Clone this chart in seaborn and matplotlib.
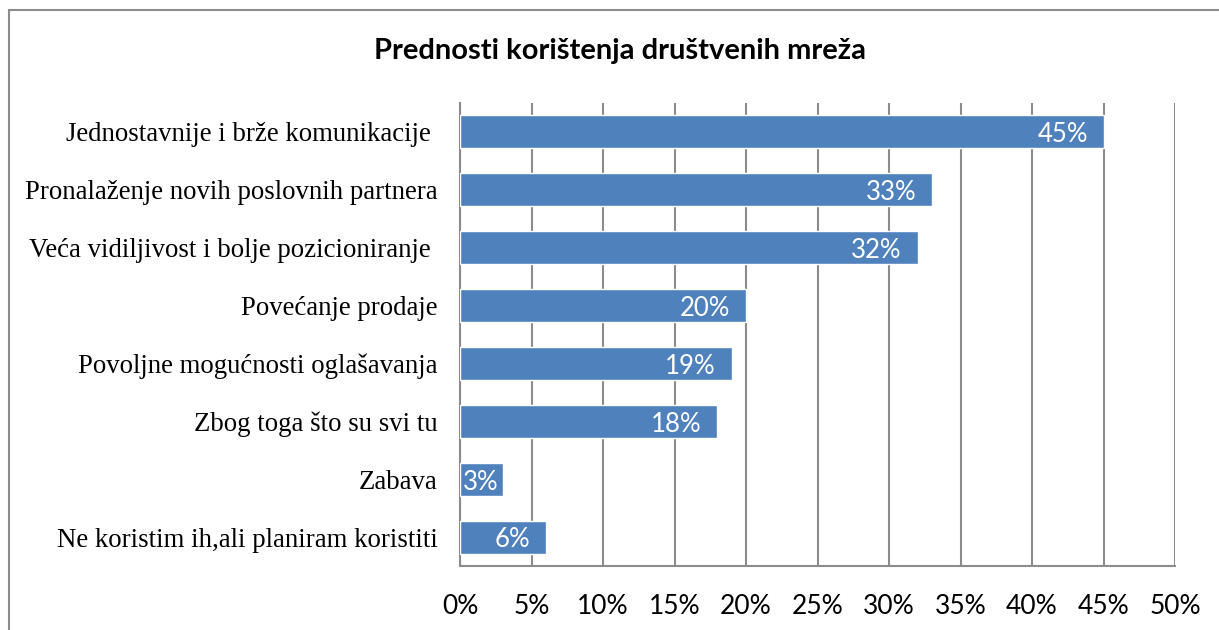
import pandas as pd
import seaborn as sns
import matplotlib.pyplot as plt
from matplotlib.patches import Rectangle

categories = [
    'Jednostavnije i brže komunikacije ',
    'Pronalaženje novih poslovnih partnera',
    'Veća vidiljivost i bolje pozicioniranje ',
    'Povećanje prodaje',
    'Povoljne mogućnosti oglašavanja',
    'Zbog toga što su svi tu',
    'Zabava',
    'Ne koristim ih,ali planiram koristiti',
]
shares = [45, 33, 32, 20, 19, 18, 3, 6]
x_ticks = [0, 5, 10, 15, 20, 25, 30, 35, 40, 45, 50]

df = pd.DataFrame({'category': categories, 'share': shares})

sns.set_style('white')
plt.rcParams['font.family'] = ['Lato', 'DejaVu Sans']
plt.rcParams['text.color'] = 'black'
plt.rcParams['xtick.color'] = 'black'
plt.rcParams['ytick.color'] = 'black'

fig = plt.figure(figsize=(12.19, 6.3), dpi=100)
ax = fig.add_axes([460 / 1219, 1 - 566 / 630, 715 / 1219, 463 / 630])

sns.barplot(data=df, x='share', y='category', orient='h', color='#4F81BD',
            saturation=1, width=0.57, ax=ax, zorder=3)

ax.set_xlim(0, 50)
ax.set_xticks(x_ticks)
ax.set_xticklabels([f'{t}%' for t in x_ticks], fontsize=19)
ax.tick_params(axis='x', length=0, pad=20)
ax.tick_params(axis='y', length=0, pad=16)
for lbl in ax.get_yticklabels():
    lbl.set_fontfamily('Liberation Serif')
    lbl.set_fontsize(19.3)
ax.set_xlabel('')
ax.set_ylabel('')

ax.grid(axis='x', color='#8c8c8c', linewidth=1.5, zorder=0)
ax.set_axisbelow(True)
for side in ['top', 'right']:
    ax.spines[side].set_visible(False)
for side in ['left', 'bottom']:
    ax.spines[side].set_color('#8c8c8c')
    ax.spines[side].set_linewidth(1.5)

# value labels inside the bar end (Excel "inside end"), clamped at the axis
for i, v in enumerate(shares):
    end = v - 1.1
    if end - 3.2 < 0:
        ax.text(0.2, i + 0.05, f'{v}%', color='white', fontsize=18.5,
                ha='left', va='center', zorder=4)
    else:
        ax.text(end, i + 0.05, f'{v}%', color='white', fontsize=18.5,
                ha='right', va='center', zorder=4)

fig.text(620 / 1219, 1 - 51 / 630, 'Prednosti korištenja društvenih mreža',
         fontsize=21, fontweight='bold', ha='center', va='center', color='black')

fig.patches.append(Rectangle((9 / 1219, -0.1), 1.2, 1 - 10 / 630 + 0.1,
                             transform=fig.transFigure, fill=False,
                             edgecolor='#8c8c8c', linewidth=1.5))

plt.savefig('out.png', dpi=100)
